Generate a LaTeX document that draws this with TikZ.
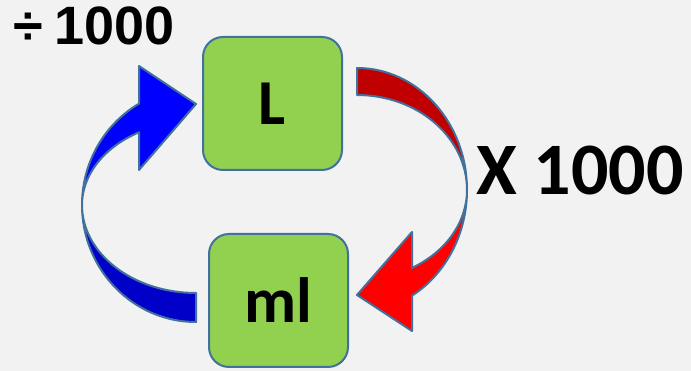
\documentclass[tikz,border=0pt]{standalone}
\usepackage{fontspec}
\newfontfamily\calib{Carlito}
\newfontfamily\arialf{Liberation Sans}
\definecolor{bg}{HTML}{F2F2F2}
\definecolor{boxgreen}{HTML}{92D050}
\definecolor{edge}{HTML}{41719C}
\definecolor{blueL}{HTML}{0000FF}
\definecolor{blueD}{HTML}{0000C8}
\definecolor{redD}{HTML}{C00000}
\definecolor{redL}{HTML}{FF0000}
\begin{document}
\begin{tikzpicture}[x=1pt,y=1pt]
\tikzset{
  unitbox/.style={draw=edge, line width=2pt, fill=boxgreen, rounded corners=20pt,
    minimum width=139pt, minimum height=133pt, inner sep=0pt,
    font=\calib\bfseries\fontsize{64}{64}\selectfont},
  band/.style={draw=edge, line width=2pt, line join=round},
  lbl/.style={anchor=base west, inner sep=0pt}
}
\useasboundingbox (0,0) rectangle (691,371);
\fill[bg] (0,0) rectangle (691,371);

% boxes
\node[unitbox] (L) at (272.5,267.5) {L};
\node[unitbox] (ml) at (278.5,70.5) {ml};

% labels
\node[lbl, font=\arialf\bfseries\fontsize{54}{54}\selectfont] (div) at (13,326) {÷ \kern-0.07em1000};
\node[lbl, font=\calib\bfseries\fontsize{74}{74}\selectfont] (mul) at (476,176) {X 1000};

% blue arrow (ml -> L), tail part
\path[band, fill=blueD] (196,49)
  arc[start angle=270, end angle=180, x radius=114pt, y radius=117pt]
  arc[start angle=180, end angle=270, x radius=114pt, y radius=88pt] -- cycle;
% blue arrow head part
\path[band, fill=blueL] (82,166)
  arc[start angle=180, end angle=120, x radius=114pt, y radius=117pt]
  -- (139,305) -- (196,267) -- (139,201) -- (139,238.7)
  arc[start angle=120, end angle=180, x radius=114pt, y radius=84pt] -- cycle;

% red arrow (L -> ml), tail part
\path[band, fill=redD] (357,303)
  arc[start angle=90, end angle=0, x radius=110pt, y radius=122pt]
  arc[start angle=0, end angle=90, x radius=110pt, y radius=95pt] -- cycle;
% red arrow head part
\path[band, fill=redL] (467,181)
  arc[start angle=0, end angle=-60, x radius=110pt, y radius=122pt]
  -- (412,40) -- (357,76) -- (412,139) -- (412,103.1)
  arc[start angle=-60, end angle=0, x radius=110pt, y radius=90pt] -- cycle;
\end{tikzpicture}
\end{document}
